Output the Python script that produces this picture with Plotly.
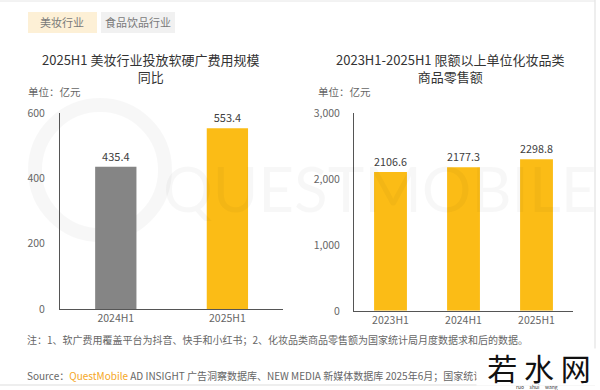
import plotly.graph_objects as go

# ---- data ----
left_categories = ["2024H1", "2025H1"]
left_values = [435.4, 553.4]
left_ticks = [0, 200, 400, 600]
left_tick_labels = ["0", "200", "400", "600"]

right_categories = ["2023H1", "2024H1", "2025H1"]
right_values = [2106.6, 2177.3, 2298.8]
right_ticks = [0, 1000, 2000, 3000]
right_tick_labels = ["0", "1,000", "2,000", "3,000"]

left_title = "2025H1 美妆行业投放软硬广费用规模<br>同比"
right_title = "2023H1-2025H1 限额以上单位化妆品类<br>商品零售额"
unit_text = "单位：亿元"
tabs = ["美妆行业", "食品饮品行业"]
note_text = "注：1、软广费用覆盖平台为抖音、快手和小红书；2、化妆品类商品零售额为国家统计局月度数据求和后的数据。"
source_text = ("Source：<span style='color:#f5a623'>QuestMobile</span> AD INSIGHT 广告洞察数据库、"
               "NEW MEDIA 新媒体数据库 2025年6月；国家统计局")

FONT = "Noto Sans CJK SC, Microsoft YaHei, sans-serif"
NUM_FONT = "Noto Sans CJK SC, sans-serif"
GRAY_BAR = "#858585"
YELLOW_BAR = "#fbbc16"

fig = go.Figure()

fig.add_trace(go.Bar(
    x=left_categories, y=left_values,
    marker=dict(color=[GRAY_BAR, YELLOW_BAR], line=dict(width=0)),
    width=0.37,
    text=[f"{v:.1f}" for v in left_values], textposition="outside",
    textfont=dict(size=11, color="#404040", family=NUM_FONT),
    cliponaxis=False,
    xaxis="x", yaxis="y", showlegend=False, hoverinfo="skip",
))
fig.add_trace(go.Bar(
    x=right_categories, y=right_values,
    marker=dict(color=YELLOW_BAR, line=dict(width=0)),
    width=0.45,
    text=[f"{v:.1f}" for v in right_values], textposition="outside",
    textfont=dict(size=11, color="#404040", family=NUM_FONT),
    cliponaxis=False,
    xaxis="x2", yaxis="y2", showlegend=False, hoverinfo="skip",
))

axis_common = dict(showgrid=False, zeroline=False, ticks="", fixedrange=True,
                   tickfont=dict(size=10.5, color="#666666", family=NUM_FONT))

fig.update_layout(
    width=600, height=390,
    margin=dict(l=0, r=0, t=0, b=0, autoexpand=False),
    paper_bgcolor="white", plot_bgcolor="rgba(0,0,0,0)",
    font=dict(family=FONT, color="#333333"),
    xaxis=dict(domain=[0.1, 0.472], anchor="y", showline=True, linecolor="#555555", linewidth=1,
               **axis_common),
    yaxis=dict(domain=[0.208, 0.71], anchor="x", range=[0, 600], showline=True,
               linecolor="#555555", linewidth=1, tickvals=left_ticks, ticktext=left_tick_labels,
               ticklabelstandoff=12, **axis_common),
    xaxis2=dict(domain=[0.59, 0.955], anchor="y2", showline=True, linecolor="#555555", linewidth=1,
                **axis_common),
    yaxis2=dict(domain=[0.203, 0.71], anchor="x2", range=[0, 3000], showline=True,
                linecolor="#555555", linewidth=1, tickvals=right_ticks, ticktext=right_tick_labels,
                ticklabelstandoff=11, **axis_common),
)

def px(x):
    return x / 600

def py(y):
    return 1 - y / 390

shapes = [
    # tabs
    dict(type="rect", xref="paper", yref="paper", x0=px(28), x1=px(97), y0=py(33), y1=py(12),
         fillcolor="#fdf0d6", line=dict(width=0), layer="below"),
    dict(type="rect", xref="paper", yref="paper", x0=px(101), x1=px(175), y0=py(33), y1=py(12),
         fillcolor="#f1f1f1", line=dict(width=0), layer="below"),
    # frame lines
    dict(type="line", xref="paper", yref="paper", x0=px(595), x1=px(595), y0=py(385), y1=1,
         line=dict(color="#dddddd", width=1)),
    dict(type="line", xref="paper", yref="paper", x0=0, x1=px(595), y0=py(385), y1=py(385),
         line=dict(color="#dddddd", width=1)),
    dict(type="line", xref="paper", yref="paper", x0=0, x1=px(595), y0=py(1), y1=py(1),
         line=dict(color="#e6e6e6", width=1)),
    # watermark circle
    dict(type="circle", xref="paper", yref="paper", x0=px(35), x1=px(165), y0=py(235), y1=py(105),
         line=dict(color="rgba(0,0,0,0.03)", width=14), layer="below"),
]

def ann(text, x, y, size, color, xanchor="center", yanchor="middle", **kw):
    return dict(text=text, x=px(x), y=py(y), xref="paper", yref="paper", showarrow=False,
                xanchor=xanchor, yanchor=yanchor,
                font=dict(size=size, color=color, family=kw.pop("family", FONT)), **kw)

annotations = [
    ann(tabs[0], 62, 22, 11, "#7a7a7a"),
    ann(tabs[1], 138, 22, 11, "#7a7a7a"),
    ann("QUESTMOBILE", 380, 188, 62, "rgba(0,0,0,0.03)", family="Lato, sans-serif"),
    ann(left_title, 150, 68, 13, "#333333", align="center"),
    ann(right_title, 450, 68, 13, "#333333", align="center"),
    ann(unit_text, 26, 91, 10.5, "#666666", xanchor="left"),
    ann(unit_text, 316, 91, 10.5, "#666666", xanchor="left"),
    ann(note_text, 25, 339, 10, "#666666", xanchor="left"),
    ann(source_text, 25, 375, 10, "#666666", xanchor="left"),
    # site watermark box (covers the tail of the source line)
    ann("若 水 网", 476, 348, 30, "#111111", xanchor="left", yanchor="top",
        family="Noto Sans CJK SC", bgcolor="white", width=124, height=36, align="center",
        valign="middle", borderpad=0),
    ann("ruo     shui     wang", 537, 387, 5, "#333333"),
]

fig.update_layout(shapes=shapes, annotations=annotations)

fig.write_html("out.html", config={"displayModeBar": False},
               post_script="document.body.style.margin='0';document.body.style.padding='0';")
